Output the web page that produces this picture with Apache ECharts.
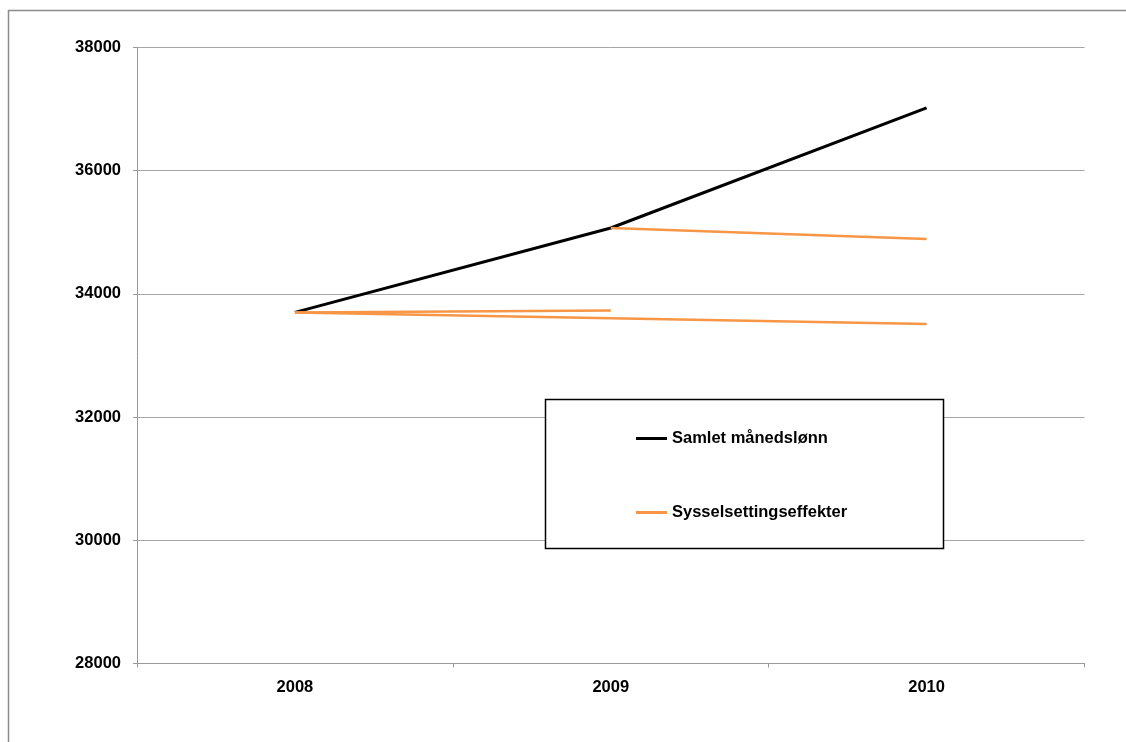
<!DOCTYPE html>
<html>
<head>
<meta charset="utf-8">
<script src="https://cdn.jsdelivr.net/npm/echarts@6/dist/echarts.min.js"></script>
<style>
  html, body { margin: 0; padding: 0; background: #fff; }
  #chart { width: 1126px; height: 742px; }
</style>
</head>
<body>
<div id="chart"></div>
<script>
// kategorier og verdier lest av bildet
const years = ['2008', '2009', '2010']
const samletLonn = [33700, 35070, 37020]
// tre oransje linjer, alle samme serie i legenden
const syssel1 = [33700, 33730, null]
const syssel2 = [33700, 33605, 33510]
const syssel3 = [null, 35070, 34890]

const orange = '#f79646'
const labelFont = { color: '#000', fontWeight: 'bold', fontSize: 16.5, fontFamily: 'Liberation Sans, Arial, sans-serif' }

const myChart = echarts.init(document.getElementById('chart'))

const orangeSeries = (data) => ({
  name: 'Sysselsettingseffekter',
  type: 'line',
  color: orange,
  symbol: 'none',
  connectNulls: false,
  lineStyle: { width: 2.5, color: orange },
  data: data
})

const options = {
  animation: false,
  // ytre ramme + legendeboks
  graphic: [
    {
      type: 'rect',
      silent: true,
      shape: { x: 8.5, y: 10.5, width: 1300, height: 900 },
      style: { fill: 'none', stroke: '#8c8c8c', lineWidth: 1.5 }
    },
    {
      type: 'rect',
      silent: true,
      z: 1,
      shape: { x: 545.5, y: 399.5, width: 398, height: 149 },
      style: { fill: '#fff', stroke: '#000', lineWidth: 1.5 }
    }
  ],
  legend: {
    data: [
      { name: 'Samlet månedslønn', icon: 'rect', itemStyle: { color: '#000' } },
      { name: 'Sysselsettingseffekter', icon: 'rect', itemStyle: { color: orange } }
    ],
    orient: 'vertical',
    left: 636,
    top: 430,
    padding: 0,
    itemWidth: 31,
    itemHeight: 3,
    itemGap: 57,
    z: 10,
    textStyle: labelFont
  },
  grid: {
    left: 137,
    right: 41.5,
    top: 47.5,
    bottom: 78.5
  },
  xAxis: {
    type: 'category',
    data: years,
    boundaryGap: true,
    axisLine: { lineStyle: { color: '#999', width: 1 } },
    axisTick: { show: true, length: 4, lineStyle: { color: '#999' } },
    axisLabel: Object.assign({ margin: 15 }, labelFont)
  },
  yAxis: {
    type: 'value',
    min: 28000,
    max: 38000,
    interval: 2000,
    axisLine: { show: true, lineStyle: { color: '#999', width: 1 } },
    axisTick: { show: true, length: 4, lineStyle: { color: '#999' } },
    axisLabel: Object.assign({ margin: 16, formatter: (v) => String(v) }, labelFont),
    splitLine: { lineStyle: { color: '#a6a6a6', width: 1 } }
  },
  series: [
    {
      name: 'Samlet månedslønn',
      type: 'line',
      color: '#000',
      symbol: 'none',
      lineStyle: { width: 3, color: '#000' },
      data: samletLonn
    },
    orangeSeries(syssel1),
    orangeSeries(syssel2),
    orangeSeries(syssel3)
  ]
}
myChart.setOption(options)
</script>
</body>
</html>
